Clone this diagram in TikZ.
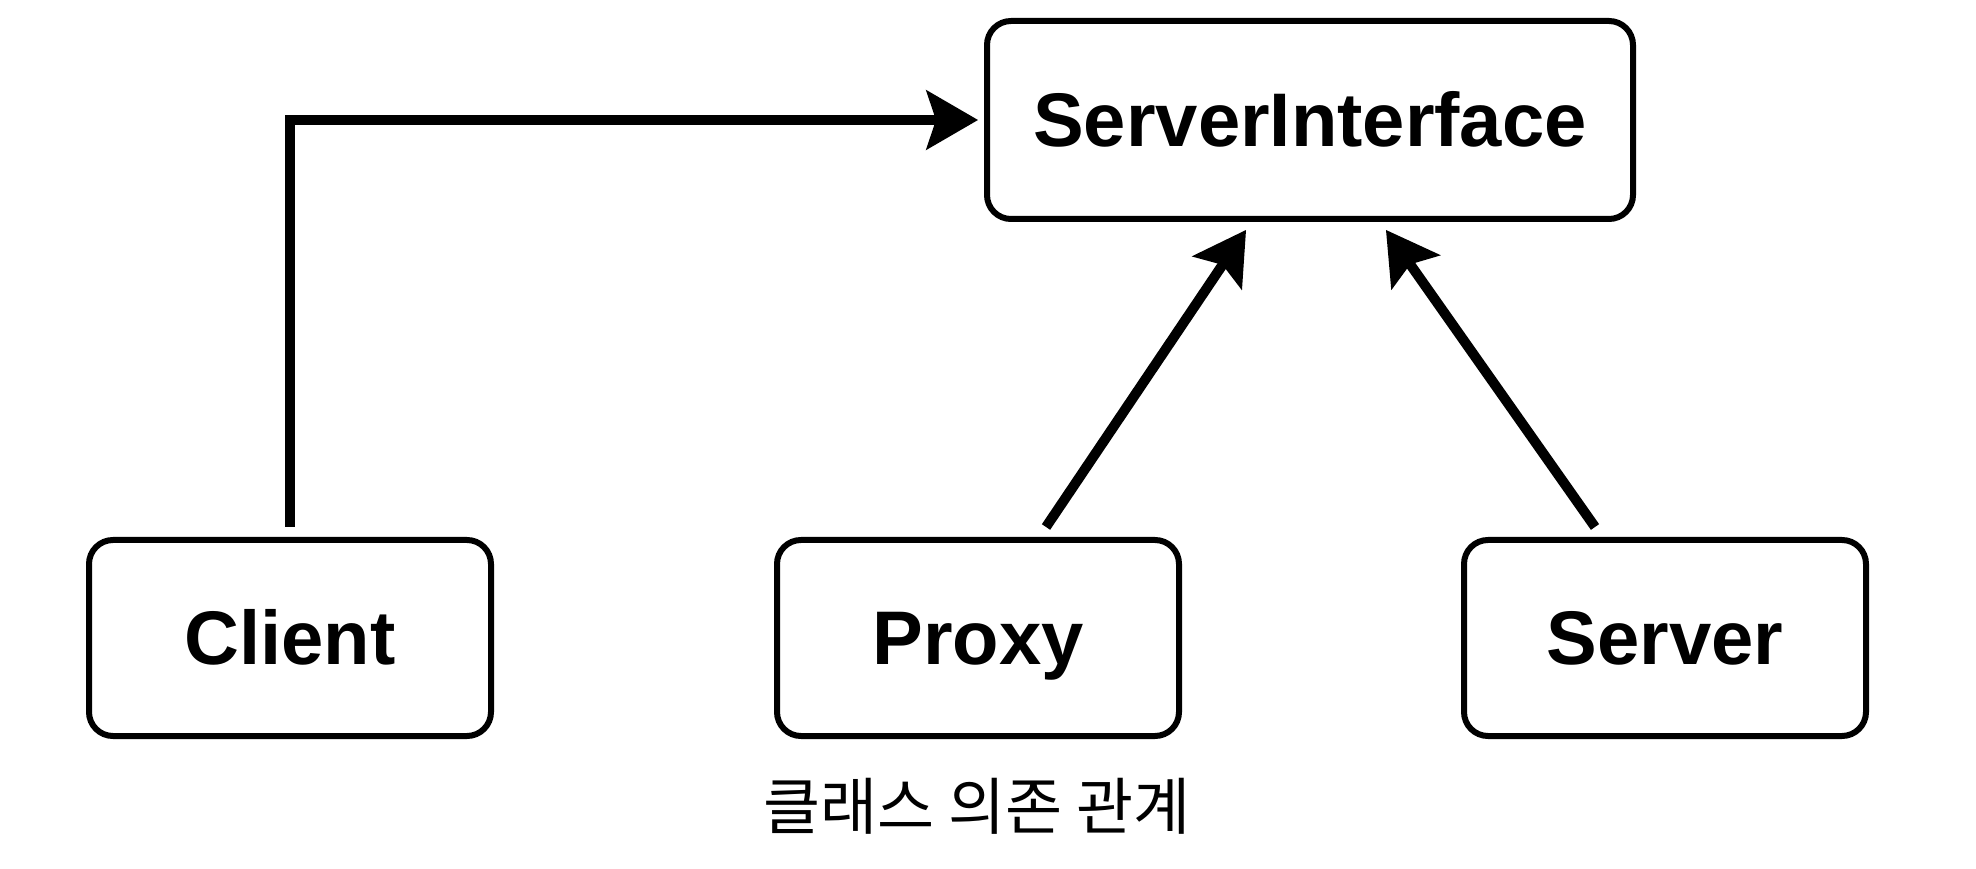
\documentclass[tikz,border=0pt]{standalone}
\usepackage{fontspec}
\setmainfont{Liberation Sans}
\newfontfamily\krfont{Noto Sans CJK KR}
\usetikzlibrary{arrows.meta,positioning}

\begin{document}
\begin{tikzpicture}[
  x=1pt, y=1pt,
  font=\fontsize{38}{44}\selectfont\bfseries,
  cls/.style={rectangle, draw, line width=3pt, rounded corners=12pt,
    minimum width=201pt, minimum height=98pt, align=center,
    text height=27pt, text depth=0pt},
  arr/.style={-{Stealth[length=26pt, width=30pt, inset=5pt, line width=2pt]},
    line width=5pt}
]
\useasboundingbox (0,0) rectangle (988,434);

\node[cls, minimum width=323pt, minimum height=99pt] (iface) at (655,374) {ServerInterface};
\node[cls] (client) at (145,115) {Client};
\node[cls] (proxy) at (489,115) {Proxy};
\node[cls] (server) at (832.5,115) {Server};

\node[font=\fontsize{31}{36}\krfont] (cap) at (488.5,31) {클래스 의존 관계};

\draw[arr] ([yshift=5pt]client.north) |- ([xshift=-3pt]iface.west);
\draw[arr] ([xshift=34pt, yshift=5pt]proxy.north) -- ([xshift=-32pt, yshift=-4pt]iface.south);
\draw[arr] ([xshift=-35pt, yshift=5pt]server.north) -- ([xshift=38pt, yshift=-4pt]iface.south);
\end{tikzpicture}
\end{document}
